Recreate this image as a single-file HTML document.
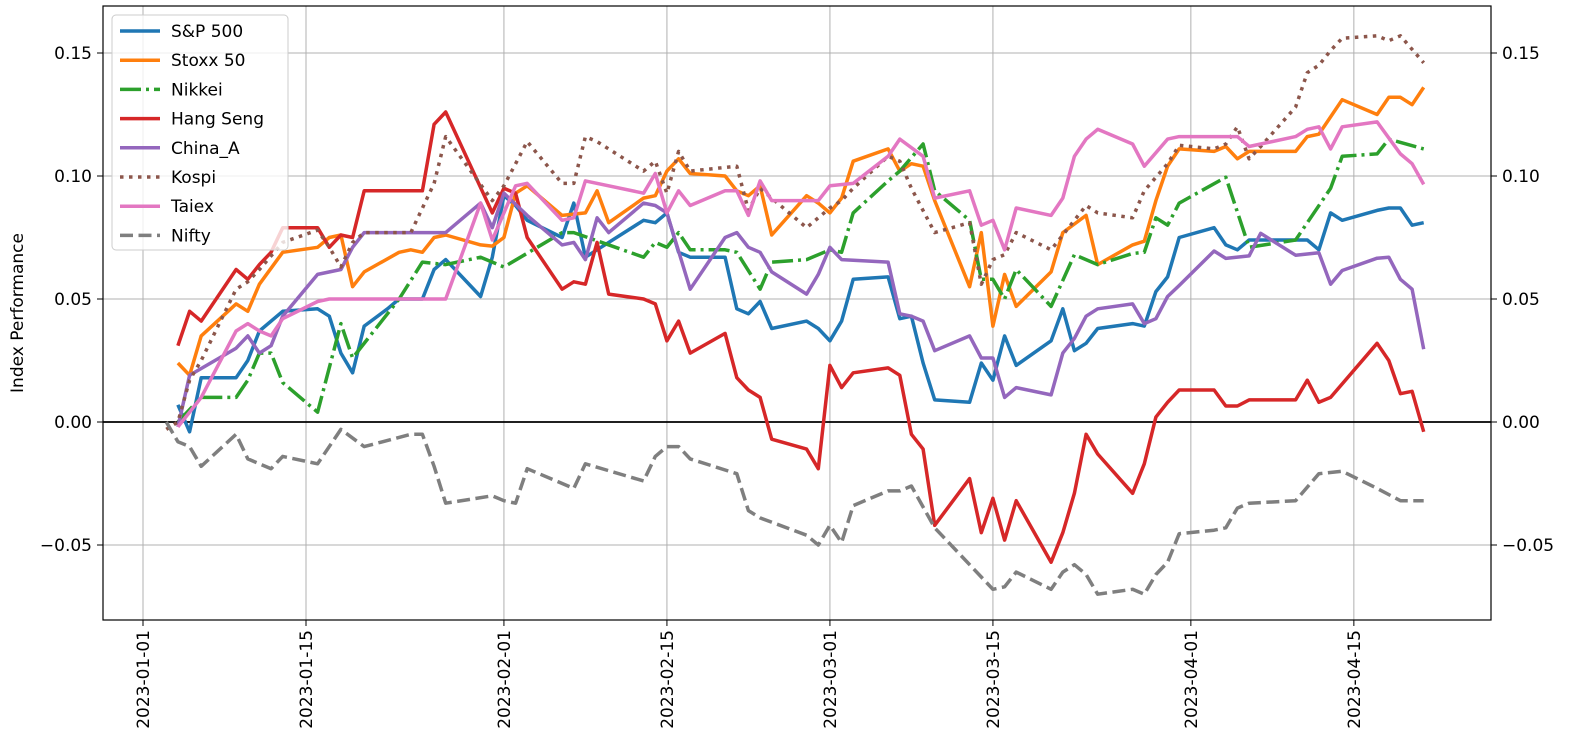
<!DOCTYPE html>
<html><head><meta charset="utf-8"><style>
html,body{margin:0;padding:0;background:#fff;}
svg{display:block;font-family:"DejaVu Sans","Liberation Sans",sans-serif;}
</style></head><body>
<svg id="chart" width="1575" height="754" viewBox="0 0 1575 754" xmlns="http://www.w3.org/2000/svg">
<g id="grid"></g>
<g id="series"></g>
<rect x="103" y="6" width="1388" height="614" fill="none" stroke="#000" stroke-width="1.2"/>
<g id="axes"></g>
<text transform="translate(23,313) rotate(-90)" text-anchor="middle" font-size="17">Index Performance</text>
<g id="legend"></g>
</svg>
<script>
const xTickDays = [0,14,31,45,59,73,90,104];
const xTickLabels = ["2023-01-01","2023-01-15","2023-02-01","2023-02-15","2023-03-01","2023-03-15","2023-04-01","2023-04-15"];
const yTicks = [-0.05,0,0.05,0.1,0.15];
const yTickLabels = ["\u22120.05","0.00","0.05","0.10","0.15"];
const seriesNames = ["S&P 500","Stoxx 50","Nikkei","Hang Seng","China_A","Kospi","Taiex","Nifty"];

const spDays = [3,4,5,8,9,10,12,15,16,17,18,19,21,22,24,25,26,29,30,31,32,33,36,37,38,39,43,44,45,46,47,50,51,52,53,54,57,58,59,60,61,64,65,66,67,68,71,72,73,74,75,78,79,80,81,82,85,86,87,88,89,92,93,94,95,100,101,102,103,106,107,108,109,110];
const spVals = [.007,-.004,.018,.018,.025,.037,.045,.046,.043,.028,.02,.039,.046,.05,.05,.062,.066,.051,.067,.092,.088,.082,.075,.089,.067,.07,.082,.081,.085,.069,.067,.067,.046,.044,.049,.038,.041,.038,.033,.041,.058,.059,.042,.043,.024,.009,.008,.024,.017,.035,.023,.033,.046,.029,.032,.038,.04,.039,.053,.059,.075,.079,.072,.07,.074,.074,.07,.085,.082,.086,.087,.087,.08,.081];

const stoxxDays = [3,4,5,8,9,10,12,15,16,17,18,19,22,23,24,25,26,29,30,31,32,33,36,38,39,40,43,44,45,46,47,50,51,52,53,54,57,58,59,60,61,64,65,66,67,68,71,72,73,74,75,78,79,81,82,85,86,87,88,89,92,93,94,95,99,100,101,103,106,107,108,109,110];
const stoxxVals = [.024,.019,.035,.048,.045,.056,.069,.071,.075,.076,.055,.061,.069,.07,.069,.075,.076,.072,.0715,.075,.093,.096,.084,.085,.094,.081,.091,.092,.102,.107,.101,.1,.094,.092,.096,.076,.092,.089,.085,.091,.106,.111,.102,.105,.104,.09,.055,.077,.039,.06,.047,.061,.077,.084,.064,.072,.0735,.09,.104,.111,.11,.112,.107,.11,.11,.116,.117,.131,.125,.132,.132,.129,.136];

const nikkeiDays = [3,5,8,9,10,11,12,15,17,18,22,24,26,29,31,36,37,43,44,45,46,47,50,51,53,54,57,59,60,61,64,65,67,68,71,72,73,74,75,78,80,82,85,86,87,88,89,93,95,99,102,103,106,107,110];
const nikkeiVals = [0,.01,.01,.017,.028,.028,.016,.004,.04,.026,.05,.065,.064,.067,.063,.077,.077,.067,.073,.071,.077,.07,.07,.069,.054,.065,.066,.07,.069,.085,.098,.102,.113,.094,.082,.058,.058,.05,.062,.047,.068,.064,.0685,.069,.083,.08,.089,.0995,.071,.074,.095,.108,.109,.115,.111];

const hangDays = [3,4,5,8,9,10,11,12,15,16,17,18,19,24,25,26,30,31,32,33,36,37,38,39,40,43,44,45,46,47,50,51,52,53,54,57,58,59,60,61,64,65,66,67,68,71,72,73,74,75,78,79,80,81,82,85,86,87,88,89,92,93,94,95,99,100,101,102,106,107,108,109,110];
const hangVals = [.031,.045,.041,.062,.058,.064,.069,.079,.079,.071,.076,.075,.094,.094,.121,.126,.085,.095,.093,.075,.054,.057,.056,.073,.052,.05,.048,.033,.041,.028,.036,.018,.013,.01,-.007,-.011,-.019,.023,.014,.02,.022,.019,-.005,-.011,-.042,-.023,-.045,-.031,-.048,-.032,-.057,-.045,-.029,-.005,-.013,-.029,-.017,.002,.008,.013,.013,.0065,.0065,.009,.009,.017,.008,.01,.032,.025,.0115,.0125,-.004];

const chinaDays = [3,4,8,9,10,11,12,15,17,18,19,26,29,30,31,33,36,37,38,39,40,43,44,45,47,50,51,52,53,54,57,58,59,60,64,65,66,67,68,71,72,73,74,75,78,79,80,81,82,85,86,87,88,89,92,93,95,96,99,101,102,103,106,107,108,109,110];
const chinaVals = [-.002,.019,.03,.035,.028,.031,.043,.06,.062,.071,.077,.077,.089,.079,.093,.084,.072,.073,.066,.083,.077,.089,.088,.085,.054,.075,.077,.071,.069,.061,.052,.06,.071,.066,.065,.044,.043,.041,.029,.035,.026,.026,.01,.014,.011,.028,.034,.043,.046,.048,.04,.042,.051,.0555,.0695,.0665,.0675,.0767,.0678,.0688,.056,.0616,.0666,.067,.058,.054,.0296];

const kospiDays = [2,3,4,5,8,9,10,12,15,16,17,18,19,23,25,26,30,31,32,33,36,37,38,39,43,44,45,46,47,51,52,53,54,57,59,60,61,64,65,66,68,71,72,73,74,75,78,81,82,85,86,88,89,92,93,94,95,96,99,100,101,102,103,106,107,108,110];
const kospiVals = [-.003,0,.017,.025,.054,.057,.062,.073,.078,.071,.063,.073,.077,.077,.097,.116,.09,.096,.105,.114,.097,.097,.116,.114,.102,.106,.093,.11,.102,.104,.086,.095,.091,.079,.087,.09,.095,.108,.106,.095,.077,.081,.056,.066,.068,.077,.07,.088,.085,.083,.094,.105,.1125,.111,.113,.12,.107,.112,.128,.142,.145,.151,.156,.157,.155,.157,.146];

const taiexDays = [3,4,5,8,9,10,11,12,15,16,26,29,30,31,32,33,36,37,38,43,44,45,46,47,50,51,52,53,54,58,59,61,64,65,67,68,71,72,73,74,75,78,79,80,81,82,85,86,88,89,94,95,96,99,100,101,102,103,106,108,109,110];
const taiexVals = [-.002,.004,.01,.037,.04,.037,.035,.042,.049,.05,.05,.089,.074,.085,.096,.097,.082,.083,.098,.093,.101,.085,.094,.088,.094,.094,.084,.098,.09,.09,.096,.097,.108,.115,.108,.091,.094,.08,.082,.07,.087,.084,.091,.108,.115,.119,.113,.104,.115,.116,.116,.112,.113,.116,.119,.12,.111,.12,.122,.109,.105,.0966];

const niftyDays = [2,3,4,5,8,9,11,12,15,17,19,23,24,25,26,30,31,32,33,37,38,43,44,45,46,47,51,52,53,57,58,59,60,61,64,65,66,68,72,73,74,75,78,79,80,81,82,85,86,87,88,89,92,93,94,95,99,101,103,106,108,110];
const niftyVals = [0,-.008,-.01,-.018,-.005,-.015,-.019,-.014,-.017,-.003,-.01,-.005,-.005,-.018,-.033,-.03,-.032,-.033,-.019,-.027,-.017,-.024,-.014,-.01,-.01,-.015,-.021,-.036,-.039,-.046,-.05,-.042,-.049,-.034,-.028,-.028,-.026,-.043,-.063,-.068,-.067,-.061,-.068,-.061,-.058,-.062,-.07,-.068,-.07,-.062,-.057,-.0454,-.044,-.043,-.035,-.033,-.032,-.021,-.02,-.027,-.032,-.032];

const NS = "http://www.w3.org/2000/svg";
const PL = 103, PR = 1491, PT = 6, PB = 620;
function xPx(d){ return 143 + d * (163/14); }
function yPx(v){ return 422 - v * 2460; }
function mk(tag, attrs, parent){
  const el = document.createElementNS(NS, tag);
  for (const k in attrs) el.setAttribute(k, attrs[k]);
  parent.appendChild(el);
  return el;
}
const grid = document.getElementById('grid');
const axes = document.getElementById('axes');
xTickDays.forEach((d,i)=>{
  const x = xPx(d);
  const gl = mk('line',{x1:x,x2:x,y1:PT,y2:PB,stroke:'#b0b0b0','stroke-width':1},grid);
  
  
  const tk = mk('line',{x1:x,x2:x,y1:PB,y2:PB+6,stroke:'#000','stroke-width':1},axes);
  
  
  const t = mk('text',{transform:`translate(${x+6},${PB+10}) rotate(-90)`,'text-anchor':'end','font-size':17},axes);
  t.textContent = xTickLabels[i];
  
  
});
yTicks.forEach((v,i)=>{
  const y = yPx(v);
  const gl = mk('line',{x1:PL,x2:PR,y1:y,y2:y,stroke:'#b0b0b0','stroke-width':1},grid);
  
  
  mk('line',{x1:PL-6,x2:PL,y1:y,y2:y,stroke:'#000'},axes);
  mk('line',{x1:PR,x2:PR+6,y1:y,y2:y,stroke:'#000'},axes);
  const t = mk('text',{x:PL-11,y:y+6,'text-anchor':'end','font-size':17},axes);
  t.textContent = yTickLabels[i];
  
  
  const t2 = mk('text',{x:PR+11,y:y+6,'text-anchor':'start','font-size':17},axes);
  t2.textContent = yTickLabels[i];
  
  
});
const zl = mk('line',{x1:PL,x2:PR,y1:yPx(0),y2:yPx(0),stroke:'#000','stroke-width':1.8},grid);



const styles = [
  {c:'#1f77b4',dash:''},
  {c:'#ff7f0e',dash:''},
  {c:'#2ca02c',dash:'21,5,3,5'},
  {c:'#d62728',dash:''},
  {c:'#9467bd',dash:''},
  {c:'#8c564b',dash:'3.5,5.5'},
  {c:'#e377c2',dash:''},
  {c:'#7f7f7f',dash:'13,5.5'}
];
const allDays = [spDays,stoxxDays,nikkeiDays,hangDays,chinaDays,kospiDays,taiexDays,niftyDays];
const allVals = [spVals,stoxxVals,nikkeiVals,hangVals,chinaVals,kospiVals,taiexVals,niftyVals];
const sg = document.getElementById('series');
const keys = ['sp500','stoxx50','nikkei','hang-seng','china-a','kospi','taiex','nifty'];
allDays.forEach((days,i)=>{
  const vals = allVals[i];
  const pts = days.map((d,j)=>xPx(d).toFixed(1)+','+yPx(vals[j]).toFixed(1)).join(' ');
  const a = {points:pts,fill:'none',stroke:styles[i].c,'stroke-width':3.5,'stroke-linejoin':'round'};
  if (styles[i].dash) a['stroke-dasharray'] = styles[i].dash;
  const pl = mk('polyline',a,sg);
  
  
});

const lg = document.getElementById('legend');
const box = mk('rect',{x:112,y:15,width:176,height:235,rx:4,fill:'#fff','fill-opacity':0.8,stroke:'#ccc'},lg);


seriesNames.forEach((n,i)=>{
  const y = 31 + i*29.2;
  const a = {x1:120,x2:160,y1:y,y2:y,stroke:styles[i].c,'stroke-width':3.5};
  if (styles[i].dash) a['stroke-dasharray'] = styles[i].dash;
  const ln = mk('line',a,lg);
  
  
  const t = mk('text',{x:171,y:y+6,'font-size':17},lg);
  t.textContent = n;
  
  
});
</script>
</body></html>
